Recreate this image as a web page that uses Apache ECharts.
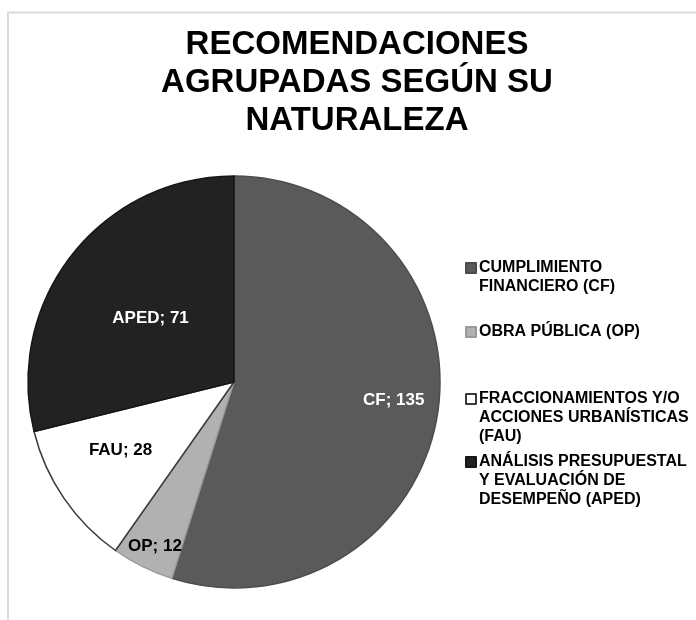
<!DOCTYPE html>
<html>
<head>
<meta charset="utf-8">
<script src="https://cdn.jsdelivr.net/npm/echarts@6/dist/echarts.min.js"></script>
<style>
  html, body { margin: 0; padding: 0; background: #fff; }
  #chart { width: 696px; height: 620px; }
</style>
</head>
<body>
<div id="chart"></div>
<script>
// datos del gráfico
const categorias = [
  'CUMPLIMIENTO FINANCIERO (CF)',
  'OBRA PÚBLICA (OP)',
  'FRACCIONAMIENTOS Y/O ACCIONES URBANÍSTICAS (FAU)',
  'ANÁLISIS PRESUPUESTAL Y EVALUACIÓN DE DESEMPEÑO (APED)'
];
const codigos = ['CF', 'OP', 'FAU', 'APED'];
const valores = [135, 12, 28, 71];

// como se parte cada leyenda en renglones
const lineasLeyenda = [
  ['CUMPLIMIENTO', 'FINANCIERO (CF)'],
  ['OBRA PÚBLICA (OP)'],
  ['FRACCIONAMIENTOS Y/O', 'ACCIONES URBANÍSTICAS', '(FAU)'],
  ['ANÁLISIS PRESUPUESTAL', 'Y EVALUACIÓN DE', 'DESEMPEÑO (APED)']
];

const colores = ['#5a5a5a', '#b1b1b1', '#ffffff', '#222222'];
const bordes = ['#4c4c4c', '#9a9a9a', '#3a3a3a', '#161616'];
const colorEtiqueta = ['#fff', '#000', '#000', '#fff'];
// desplazamiento de las etiquetas respecto a la posicion "inside"
const ajusteEtiqueta = [[55, 2], [-32, 69], [-26, 8], [0, 2]];
// centro del primer renglon de cada leyenda
const leyendaY = [268, 332, 399, 462];

const LH = 19;
const FONT = '"Liberation Sans", Arial, sans-serif';

const chart = echarts.init(document.getElementById('chart'));

// el icono queda centrado en el bloque de texto: se agregan renglones vacios
// arriba para que quede a la altura del primer renglon
const leyendas = categorias.map((nombre, i) => {
  const n = lineasLeyenda[i].length;
  const vacios = new Array(n - 1).fill(' ');
  return {
    orient: 'vertical',
    left: 465,
    top: leyendaY[i] - (2 * n - 1) * LH / 2,
    padding: 0,
    icon: 'rect',
    itemWidth: 10,
    itemHeight: 10,
    selectedMode: false,
    data: [nombre],
    formatter: () => vacios.concat(lineasLeyenda[i]).join('\n'),
    textStyle: {
      fontFamily: FONT,
      fontWeight: 'bold',
      fontSize: 16,
      lineHeight: LH,
      color: '#000',
      padding: [0, 0, 0, -2]
    }
  };
});

chart.setOption({
  animation: false,
  backgroundColor: '#fff',
  title: {
    text: 'RECOMENDACIONES\nAGRUPADAS SEGÚN SU\nNATURALEZA',
    left: 357,
    top: 26,
    padding: 0,
    textAlign: 'center',
    textStyle: {
      fontFamily: FONT,
      fontWeight: 'bold',
      fontSize: 33,
      lineHeight: 38,
      color: '#000'
    }
  },
  graphic: [{
    type: 'rect',
    shape: { x: 8, y: 12.5, width: 700, height: 620 },
    style: { fill: 'none', stroke: '#dcdcdc', lineWidth: 2 },
    silent: true
  }],
  legend: leyendas,
  series: [{
    type: 'pie',
    center: [234, 382],
    radius: 206,
    startAngle: 90,
    clockwise: true,
    avoidLabelOverlap: false,
    label: {
      show: true,
      position: 'inside',
      fontFamily: FONT,
      fontWeight: 'bold',
      fontSize: 17,
      formatter: p => codigos[p.dataIndex] + '; ' + p.value
    },
    labelLine: { show: false },
    labelLayout: p => ({ dx: ajusteEtiqueta[p.dataIndex][0], dy: ajusteEtiqueta[p.dataIndex][1] }),
    emphasis: { disabled: true },
    data: categorias.map((nombre, i) => ({
      name: nombre,
      value: valores[i],
      itemStyle: { color: colores[i], borderColor: bordes[i], borderWidth: 1.5 },
      label: { color: colorEtiqueta[i] }
    }))
  }]
});
</script>
</body>
</html>
